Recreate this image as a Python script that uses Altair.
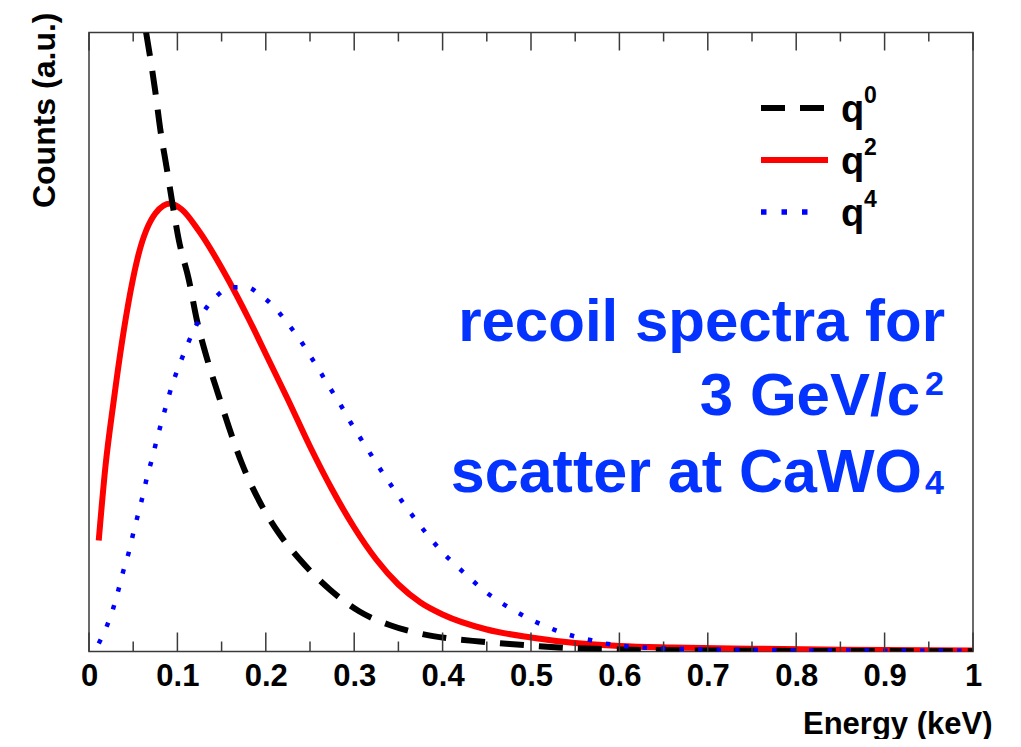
import altair as alt
import pandas as pd

# ---------------- data ----------------
q0_E = [0.0646, 0.075, 0.081, 0.088, 0.094, 0.1016, 0.113, 0.122, 0.134, 0.147, 0.158,
        0.173, 0.192, 0.215, 0.239, 0.273, 0.306, 0.340, 0.374, 0.408, 0.442, 0.476,
        0.544, 0.60, 0.70, 0.80, 0.90, 1.00]
q0_C = [619, 560, 520, 483, 450, 411.5, 371.5, 331.5, 291.5, 255, 225,
        188, 151.5, 118, 91.5, 61.5, 40, 26.5, 18, 13, 10, 7.5,
        3.5, 2, 1, 0.6, 0.4, 0.3]

q2_E = [0.011, 0.0186, 0.028, 0.0374, 0.0563, 0.075, 0.092, 0.105, 0.124, 0.158,
        0.181, 0.203, 0.225, 0.250, 0.275, 0.300, 0.325, 0.350, 0.375, 0.400, 0.450,
        0.500, 0.550, 0.600, 0.660, 0.750, 0.850, 1.000]
q2_C = [111, 185, 251, 310, 398, 438, 448, 442, 421, 371,
        332, 292, 252, 205, 162, 124, 92, 67, 49, 37, 22,
        14, 8.5, 5.5, 4, 2.8, 1.8, 1]

q4_E = [0.011, 0.020, 0.027, 0.0325, 0.0385, 0.0457, 0.050, 0.055, 0.062, 0.066, 0.071,
        0.077, 0.0835, 0.089, 0.094, 0.1016, 0.110, 0.119, 0.130, 0.144, 0.160, 0.1775,
        0.194, 0.210, 0.224, 0.238, 0.250, 0.262, 0.273, 0.285, 0.296, 0.308, 0.320,
        0.332, 0.345, 0.3575, 0.371, 0.385, 0.400, 0.416, 0.432, 0.448, 0.465, 0.483,
        0.4995, 0.516, 0.533, 0.550, 0.567, 0.584, 0.601, 0.618, 0.635, 0.652, 0.75,
        0.85, 1.00]
q4_C = [8, 25, 42, 59, 79.5, 101.5, 118, 135.5, 160, 176, 191.5,
        213, 234, 251.5, 266.5, 285, 304, 322, 340, 355, 364, 364.5,
        356.5, 344, 329, 312.5, 296, 279, 263, 246, 229, 212, 195.5,
        179, 162, 146, 130, 114.5, 99, 85.5, 72.5, 60, 49.5, 40,
        32, 25.5, 19.5, 15, 11.5, 8, 6, 4.5, 3.5, 3, 1.5,
        1, 0.6]

major_ticks = [0.0, 0.1, 0.2, 0.3, 0.4, 0.5, 0.6, 0.7, 0.8, 0.9, 1.0]
minor_ticks = [0.05, 0.15, 0.25, 0.35, 0.45, 0.55, 0.65, 0.75, 0.85, 0.95]

legend_labels = ["q", "q", "q"]
legend_sups = ["0", "2", "4"]
note_lines = ["recoil spectra for", "3 GeV/c", "scatter at CaWO"]
note_marks = ["", "2", "4"]
x_title = "Energy (keV)"
y_title = "Counts (a.u.)"

# ---------------- styling ----------------
W, H = 884, 619
FONT = "Liberation Sans"
FRAME = "#3a3a3a"
NOTE_BLUE = "#0433ff"

xs = alt.Scale(domain=[0, 1], nice=False, zero=False)
ys = alt.Scale(domain=[0, 619], nice=False, zero=True)

x_axis = alt.Axis(values=major_ticks, format="~g", title=x_title, ticks=False, domain=False,
                  grid=False, labelFont=FONT, labelFontSize=31, labelFontWeight="bold",
                  labelColor="black", labelPadding=34, labelBaseline="alphabetic",
                  labelFlush=False, labelOverlap=False, labelBound=False,
                  titleFont=FONT, titleFontSize=31, titleFontWeight="bold", titleColor="black",
                  titleAlign="right", titleBaseline="alphabetic", titleX=903, titleY=81.5)
y_axis = alt.Axis(title=y_title, labels=False, ticks=False, domain=False, grid=False,
                  titleFont=FONT, titleFontSize=32, titleFontWeight="bold", titleColor="black",
                  titleAngle=270, titleAlign="right", titleBaseline="alphabetic",
                  titleX=-35, titleY=-20.5)


def curve(E, C, color, width, dash):
    df = pd.DataFrame({"E": E, "C": C})
    mk = dict(color=color, strokeWidth=width, interpolate="monotone", clip=True)
    if dash:
        mk["strokeDash"] = dash
    return alt.Chart(df).mark_line(**mk).encode(
        x=alt.X("E:Q", scale=xs, axis=x_axis, title=x_title),
        y=alt.Y("C:Q", scale=ys, axis=y_axis, title=y_title),
    )


red = curve(q2_E, q2_C, "#ff0000", 6, None)
black = curve(q0_E, q0_C, "black", 6, [24, 15])
blue = curve(q4_E, q4_C, "#0000ff", 4.5, [4.5, 14])

# inward ticks on top and bottom edges
maj = alt.Chart(pd.DataFrame({"t": major_ticks})).mark_rule(color=FRAME, strokeWidth=1.5)
mnr = alt.Chart(pd.DataFrame({"t": minor_ticks})).mark_rule(color=FRAME, strokeWidth=1.5)
tx = alt.X("t:Q", scale=xs, axis=x_axis, title=x_title)
ticks = [
    maj.encode(x=tx, y=alt.value(H), y2=alt.value(H - 19)),
    maj.encode(x=tx, y=alt.value(0), y2=alt.value(18)),
    mnr.encode(x=tx, y=alt.value(H), y2=alt.value(H - 10)),
    mnr.encode(x=tx, y=alt.value(0), y2=alt.value(9)),
]

# custom legend
leg_styles = [("black", 6, [24, 15], 735), ("#ff0000", 6, None, 739), ("#0000ff", 5.5, [5.5, 15], 720)]
leg_line_y = [75.5, 127.5, 179.5]
legend = []
for i, (col, w, dash, xend) in enumerate(leg_styles):
    d = pd.DataFrame({"label": [legend_labels[i]], "sup": [legend_sups[i]]})
    mk = dict(color=col, strokeWidth=w)
    if dash:
        mk["strokeDash"] = dash
    legend.append(alt.Chart(d).mark_rule(**mk).encode(
        x=alt.value(672), x2=alt.value(xend), y=alt.value(leg_line_y[i])))
    legend.append(alt.Chart(d).mark_text(font=FONT, fontSize=38, fontWeight="bold", color="black",
                                         align="left", baseline="alphabetic").encode(
        x=alt.value(752), y=alt.value(leg_line_y[i] + 14), text="label:N"))
    legend.append(alt.Chart(d).mark_text(font=FONT, fontSize=23, fontWeight="bold", color="black",
                                         align="left", baseline="alphabetic").encode(
        x=alt.value(775), y=alt.value(leg_line_y[i] - 5), text="sup:N"))

# annotation
note_y = [308, 382.5, 459]
note_main_right = [856, 831, 833]
note_size = [60, 60, 61]
note_mark_dy = [0, -20, 2]
note_mark_size = [0, 34, 34]
notes = []
for i in range(3):
    d = pd.DataFrame({"s": [note_lines[i]], "m": [note_marks[i]]})
    notes.append(alt.Chart(d).mark_text(font=FONT, fontSize=note_size[i], fontWeight="bold",
                                        color=NOTE_BLUE, align="right", baseline="alphabetic").encode(
        x=alt.value(note_main_right[i]), y=alt.value(note_y[i]), text="s:N"))
    if note_marks[i]:
        notes.append(alt.Chart(d).mark_text(font=FONT, fontSize=note_mark_size[i], fontWeight="bold",
                                            color=NOTE_BLUE, align="right", baseline="alphabetic").encode(
            x=alt.value(855), y=alt.value(note_y[i] + note_mark_dy[i]), text="m:N"))

chart = alt.layer(red, black, blue, *ticks, *legend, *notes).properties(
    width=W, height=H,
    autosize=alt.AutoSizeParams(type="none"),
    padding={"left": 81, "top": 24.5, "right": 40, "bottom": 87.5},
    background="white",
).configure_view(stroke=FRAME, strokeWidth=1.5)

chart.save("out.html", embed_options={"renderer": "svg", "actions": False})
